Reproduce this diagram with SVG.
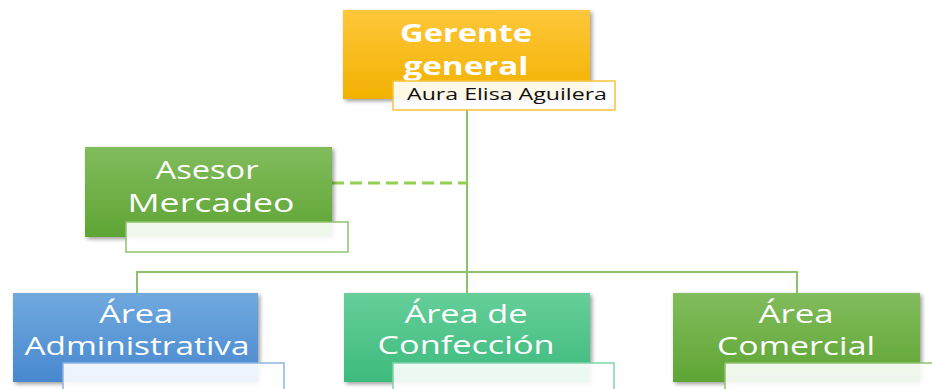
<svg xmlns="http://www.w3.org/2000/svg" width="932" height="389" viewBox="0 0 932 389">
<defs>
<linearGradient id="gY" x1="0" y1="0" x2="0" y2="1"><stop offset="0" stop-color="#FEC73A"/><stop offset="1" stop-color="#F2B100"/></linearGradient>
<linearGradient id="gG" x1="0" y1="0" x2="0" y2="1"><stop offset="0" stop-color="#82BC5C"/><stop offset="1" stop-color="#5EA535"/></linearGradient>
<linearGradient id="gB" x1="0" y1="0" x2="0" y2="1"><stop offset="0" stop-color="#70A9DE"/><stop offset="1" stop-color="#4888CF"/></linearGradient>
<linearGradient id="gT" x1="0" y1="0" x2="0" y2="1"><stop offset="0" stop-color="#66CE9A"/><stop offset="1" stop-color="#3DBB7D"/></linearGradient>
<filter id="sh" x="-10%" y="-10%" width="125%" height="130%"><feGaussianBlur in="SourceAlpha" stdDeviation="2"/><feOffset dx="2" dy="2"/><feComponentTransfer><feFuncA type="linear" slope="0.4"/></feComponentTransfer><feMerge><feMergeNode/><feMergeNode in="SourceGraphic"/></feMerge></filter>
</defs>
<style>
.t{font-family:"Open Sans","DejaVu Sans",sans-serif;fill:#fff;font-size:25px;text-anchor:middle}
.b{font-weight:bold;font-size:25px}
.n{font-family:"Open Sans","DejaVu Sans",sans-serif;fill:#111;font-size:17px}
.c{fill:none;stroke:#8DC26B;stroke-width:2}
.sub{fill:#fff;fill-opacity:0.9;stroke-width:1.5}
</style>
<g id="connectors">
<path class="c" d="M467 110 V293"/>
<path class="c" d="M137 293 V272 H797 V293" stroke-width="1.5"/>
<path d="M332 183 H467" fill="none" stroke="#92D050" stroke-width="3" stroke-dasharray="12,6"/>
</g>
<g id="gerente">
<rect x="343" y="10" width="247" height="89" fill="url(#gY)" filter="url(#sh)"/>
<text class="t b" x="466" y="42" textLength="132" lengthAdjust="spacingAndGlyphs">Gerente</text>
<text class="t b" x="466" y="75" textLength="125" lengthAdjust="spacingAndGlyphs">general</text>
<rect class="sub" x="393" y="81" width="222" height="29" stroke="#F9C23C"/>
<text class="n" x="407" y="100" textLength="200" lengthAdjust="spacingAndGlyphs">Aura Elisa Aguilera</text>
</g>
<g id="asesor">
<rect x="85" y="147" width="247" height="90" fill="url(#gG)" filter="url(#sh)"/>
<text class="t" x="207" y="179" textLength="103" lengthAdjust="spacingAndGlyphs">Asesor</text>
<text class="t" x="211" y="212" textLength="167" lengthAdjust="spacingAndGlyphs">Mercadeo</text>
<rect class="sub" x="126" y="222" width="222" height="30" stroke="#8DC26B"/>
</g>
<g id="administrativa">
<rect x="13" y="293" width="245" height="89" fill="url(#gB)" filter="url(#sh)"/>
<text class="t" x="136" y="323" textLength="74" lengthAdjust="spacingAndGlyphs">Área</text>
<text class="t" x="137" y="355" textLength="225" lengthAdjust="spacingAndGlyphs">Administrativa</text>
<rect class="sub" x="63" y="363" width="221" height="40" stroke="#8DB4E2"/>
</g>
<g id="confeccion">
<rect x="344" y="293" width="246" height="89" fill="url(#gT)" filter="url(#sh)"/>
<text class="t" x="466" y="323" textLength="123" lengthAdjust="spacingAndGlyphs">Área de</text>
<text class="t" x="466" y="354" textLength="177" lengthAdjust="spacingAndGlyphs">Confección</text>
<rect class="sub" x="393" y="363" width="221" height="40" stroke="#7ED3A8"/>
</g>
<g id="comercial">
<rect x="673" y="293" width="247" height="89" fill="url(#gG)" filter="url(#sh)"/>
<text class="t" x="796" y="323" textLength="75" lengthAdjust="spacingAndGlyphs">Área</text>
<text class="t" x="796" y="355" textLength="158" lengthAdjust="spacingAndGlyphs">Comercial</text>
<rect class="sub" x="725" y="363" width="221" height="40" stroke="#8DC26B"/>
</g>
</svg>
